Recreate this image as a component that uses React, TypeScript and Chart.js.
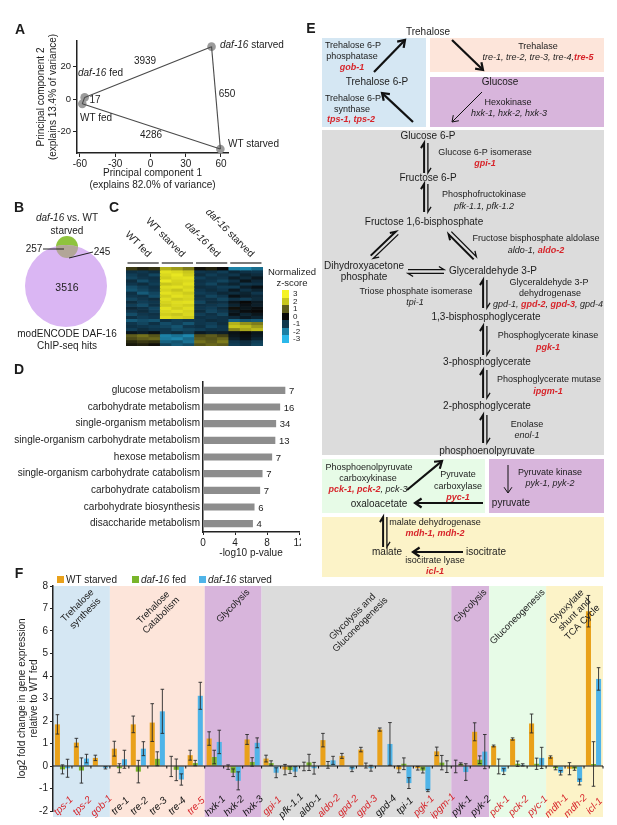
import React, { useEffect, useRef } from 'react';
import { Chart, registerables } from 'chart.js';

Chart.register(...registerables);

const FONT = "'Liberation Sans', Arial, Helvetica, sans-serif";
const RED = '#d7242a';
const INK = '#1c1c1c';

// ---------------- Panel A data ----------------
const pcaSamples = ['daf-16 fed', 'WT fed', 'daf-16 starved', 'WT starved'];
const pc1Scores = [-56, -58, 52, 59.5];
const pc2Scores = [1, -3, 32.5, -31];
const deEdgeFrom = [0, 1, 2, 1];
const deEdgeTo = [2, 3, 3, 0];
const deGeneCounts = [3939, 4286, 650, 17];
const pc1Ticks = [-60, -30, 0, 30, 60];
const pc2Ticks = [-20, 0, 20];

// ---------------- Panel B data ----------------
const vennSets = ['modENCODE DAF-16 ChIP-seq hits', 'daf-16 vs. WT starved'];
const vennCounts = [3516, 257, 245]; // ChIP only, daf-16 vs WT only, overlap

// ---------------- Panel C data ----------------
const heatGroups = ['WT fed', 'WT starved', 'daf-16 fed', 'daf-16 starved'];
const heatReplicates = ['1', '2', '3'];
const heatZ = [
  [0.6, 0.3, 0.5, 1.8, 1.6, 1.3, 0.1, 0.3, 0.0, -2.0, -2.1, -1.7],
  [-0.9, -1.0, -0.8, 2.6, 2.4, 2.0, -1.0, -0.9, -1.1, -0.7, -0.9, -1.0],
  [-1.1, -0.9, -1.2, 2.4, 2.7, 2.2, -0.8, -1.1, -0.9, -1.0, -0.6, -0.8],
  [-1.2, -1.0, -0.9, 2.2, 2.5, 2.6, -1.1, -0.9, -1.0, -0.5, -0.8, -0.4],
  [-0.8, -1.3, -1.0, 2.7, 2.3, 2.4, -0.9, -1.0, -1.2, -0.9, -0.3, -0.7],
  [-1.0, -0.8, -1.1, 2.0, 2.2, 2.6, -1.0, -1.2, -0.8, -0.6, -1.0, -0.9],
  [-1.3, -1.1, -0.9, 2.5, 2.6, 2.3, -0.8, -0.9, -1.1, -1.1, -0.5, -0.2],
  [-1.4, -1.2, -1.0, 2.3, 2.0, 2.5, -1.0, -0.8, -1.0, -0.4, -0.9, -0.6],
  [-0.9, -1.5, -1.2, 2.6, 2.4, 2.1, -1.1, -1.0, -0.7, -0.8, -0.6, -1.0],
  [-1.0, -0.9, -1.3, 2.2, 2.6, 2.4, -0.9, -1.2, -1.0, -0.2, -0.5, -0.7],
  [-1.2, -1.0, -0.8, 2.5, 2.1, 2.3, -1.0, -0.9, -1.2, -0.9, -1.1, -0.8],
  [-0.8, -1.1, -1.0, 2.3, 2.5, 2.6, -1.2, -0.8, -0.9, -0.3, 0.0, -0.4],
  [-1.1, -1.3, -0.9, 2.1, 2.4, 2.2, -0.9, -1.0, -1.1, -0.6, -0.2, -0.5],
  [-0.7, -0.9, -1.2, 2.6, 2.2, 2.5, -1.0, -1.1, -0.8, 0.1, -0.3, -0.1],
  [-1.0, -0.8, -1.1, 2.4, 2.6, 2.3, -0.8, -1.2, -1.0, -0.4, -0.1, 0.0],
  [-1.3, -1.0, -0.9, 2.2, 2.0, 2.4, -1.1, -0.9, -1.2, -0.2, -0.6, -0.3],
  [-0.9, -1.1, -1.0, 2.5, 2.3, 2.1, -0.9, -1.0, -0.9, -0.7, -0.4, -0.6],
  [-1.5, -1.3, -1.4, -0.9, -1.1, -1.0, -1.0, -0.8, -0.9, -1.6, -1.4, -1.5],
  [-1.0, -1.2, -0.9, -1.3, -1.1, -1.4, -1.0, -1.1, -0.8, 1.8, 1.5, 1.3],
  [-0.9, -1.0, -1.1, -1.2, -1.4, -1.0, -0.9, -1.2, -1.0, 2.0, 1.9, 1.6],
  [-1.1, -0.8, -1.0, -1.0, -1.3, -1.2, -1.1, -0.9, -1.0, 1.4, 1.7, 1.9],
  [-0.3, -0.5, -0.2, -1.0, -0.8, -1.1, -0.4, -0.6, -0.5, -0.2, 0.0, -0.3],
  [1.0, 1.2, 0.9, -2.0, -1.8, -2.1, 0.8, 1.0, 0.7, -0.3, -0.1, -0.4],
  [0.8, 1.0, 1.1, -1.9, -2.1, -1.7, 1.0, 0.9, 1.1, -0.5, -0.2, -0.6],
  [0.4, 0.6, 0.5, -1.6, -1.4, -1.8, 1.2, 1.0, 1.3, -1.0, -0.8, -1.1],
  [0.2, 0.3, 0.1, -1.2, -1.5, -1.3, 0.9, 1.1, 1.0, -1.1, -0.9, -1.2],
];
const zLegendValues = [3, 2, 1, 0, -1, -2, -3];

// ---------------- Panel D data ----------------
const goTerms = [
  'glucose metabolism',
  'carbohydrate metabolism',
  'single-organism metabolism',
  'single-organism carbohydrate metabolism',
  'hexose metabolism',
  'single-organism carbohydrate catabolism',
  'carbohydrate catabolism',
  'carbohydrate biosynthesis',
  'disaccharide metabolism',
];
const goLog10P = [10.25, 9.6, 9.1, 9.0, 8.6, 7.4, 7.1, 6.4, 6.2];
const goGeneCounts = [7, 16, 34, 13, 7, 7, 7, 6, 4];
const goTicks = [0, 4, 8, 12];

// ---------------- Panel F data ----------------
const genes = [
  'tps-1', 'tps-2', 'gob-1', 'tre-1', 'tre-2', 'tre-3', 'tre-4', 'tre-5',
  'hxk-1', 'hxk-2', 'hxk-3', 'gpi-1', 'pfk-1.1', 'aldo-1', 'aldo-2', 'gpd-2',
  'gpd-3', 'gpd-4', 'tpi-1', 'pgk-1', 'ipgm-1', 'pyk-1', 'pyk-2', 'pck-1',
  'pck-2', 'pyc-1', 'mdh-1', 'mdh-2', 'icl-1',
];
const geneSignificant = [
  true, true, true, false, false, false, false, true,
  false, false, false, true, false, false, true, true,
  true, false, false, true, true, false, false, true,
  true, true, true, true, true,
];
const wtStarvedFC = [1.85, 1.04, 0.36, 0.77, 1.85, 1.93, -0.02, 0.48, 1.22, -0.05, 1.18, 0.33, -0.16, -0.02, 1.15, 0.45, 0.73, 1.62, -0.15, -0.1, 0.65, -0.02, 1.52, 0.89, 1.2, 1.89, 0.4, -0.12, 6.88];
const wtStarvedErr = [0.43, 0.19, 0.12, 0.33, 0.37, 0.84, 0.45, 0.22, 0.3, 0.1, 0.22, 0.15, 0.23, 0.19, 0.3, 0.11, 0.1, 0.07, 0.15, 0.08, 0.19, 0.28, 0.4, 0.04, 0.05, 0.42, 0.05, 0.27, 0.7];
const dafFedFC = [-0.15, -0.2, 0.0, -0.1, -0.25, 0.32, -0.17, 0.13, 0.4, -0.3, 0.18, 0.13, -0.18, 0.16, 0.05, 0.02, 0.02, 0.03, 0.1, -0.2, 0.15, 0.1, 0.28, -0.02, 0.1, 0.1, -0.1, -0.12, 0.09];
const dafFedErr = [0.2, 0.56, 0.0, 0.2, 0.5, 0.31, 0.48, 0.12, 0.3, 0.17, 0.19, 0.1, 0.15, 0.36, 0.15, 0.0, 0.11, 0.0, 0.26, 0.11, 0.32, 0.04, 0.17, 0.33, 0.12, 0.25, 0.07, 0.07, 0.99];
const dafStarvedFC = [-0.1, 0.33, -0.08, 0.3, 0.77, 2.43, -0.6, 3.12, 1.07, -0.66, 1.03, -0.3, -0.25, -0.1, 0.25, -0.15, -0.1, 0.98, -0.76, -1.09, -0.03, -0.27, 0.64, -0.25, 0.05, 0.36, -0.3, -0.71, 3.87];
const dafStarvedErr = [0.4, 0.19, 0.05, 0.4, 0.31, 0.98, 0.25, 0.6, 0.52, 0.4, 0.22, 0.22, 0.22, 0.26, 0.18, 0.1, 0.13, 0.95, 0.24, 0.05, 0.26, 0.37, 0.76, 0.13, 0.05, 0.47, 0.1, 0.13, 0.5];
const seriesNames = ['WT starved', 'daf-16 fed', 'daf-16 starved'];
const pathwayNames = ['Trehalose\nsynthesis', 'Trehalose\nCatabolism', 'Glycolysis', 'Glycolysis and\nGluconeogenesis', 'Glycolysis', 'Gluconeogenesis', 'Glyoxylate\nshunt and\nTCA Cycle'];
const pathwayFirst = [0, 3, 8, 11, 21, 23, 26];
const pathwayLast = [2, 7, 10, 20, 22, 25, 28];
const fcTicks = [-2, -1, 0, 1, 2, 3, 4, 5, 6, 7, 8];

// ---------------- styles ----------------
const BG_BLUE = '#d5e7f3';
const BG_PINK = '#fde5da';
const BG_PURPLE = '#d8b5dc';
const BG_GRAY = '#dcdcdc';
const BG_GREEN = '#e7fbe7';
const BG_YELLOW = '#fcf3c8';
const pathwayColors = [BG_BLUE, BG_PINK, BG_PURPLE, BG_GRAY, BG_PURPLE, BG_GREEN, BG_YELLOW];
const seriesColors = ['#e9a11a', '#79b52a', '#4fb4e8'];
const zStops: [number, number[]][] = [
  [-3, [43, 184, 234]], [-2, [28, 128, 165]], [-1, [15, 54, 76]], [0, [8, 8, 8]],
  [1, [94, 92, 28]], [2, [200, 198, 28]], [3, [245, 243, 35]],
];
function zColor(z: number) {
  const v = Math.max(-3, Math.min(3, z));
  for (let i = 0; i < zStops.length - 1; i++) {
    const [a, ca] = zStops[i];
    const [b, cb] = zStops[i + 1];
    if (v >= a && v <= b) {
      const t = (v - a) / (b - a);
      const c = ca.map((x, k) => Math.round(x + (cb[k] - x) * t));
      return `rgb(${c[0]},${c[1]},${c[2]})`;
    }
  }
  return 'rgb(8,8,8)';
}

// layout geometry
const A_BOX = { left: 0, top: 30, width: 300, height: 165 };
const B_BOX = { left: 20, top: 230, width: 100, height: 105 };
const vennCircles = [{ cx: 46, cy: 56, r: 41 }, { cx: 47, cy: 17, r: 11 }];
const C_BOX = { left: 126, top: 255, width: 137, height: 91, padTop: 12 };
const D_BOX = { left: 0, top: 370, width: 301, height: 195 };
const F_BOX = { left: 0, top: 575, width: 617, height: 250 };

// ---------------- chart helpers ----------------
const base: any = {
  responsive: false,
  animation: false,
  devicePixelRatio: 1,
  events: [],
  plugins: { legend: { display: false }, tooltip: { enabled: false } },
};
const fix = (size: number) => (s: any) => {
  if (s.isHorizontal()) s.height = size;
  else s.width = size;
  s.paddingLeft = 0;
  s.paddingRight = 0;
  s.paddingTop = 0;
  s.paddingBottom = 0;
};
const setTicks = (vals: number[]) => (s: any) => {
  s.ticks = vals.map((v) => ({ value: v }));
};
const tickFont = { family: FONT, size: 10 };
const axisGrid = (len: number) => ({ display: true, drawOnChartArea: false, drawTicks: true, tickLength: len, color: '#222', lineWidth: 1 });
const axisBorder = { display: true, color: '#222', width: 1.5 };

function ChartCanvas({ box, make }: { box: any; make: () => any }) {
  const ref = useRef<HTMLCanvasElement>(null);
  useEffect(() => {
    const chart = new Chart(ref.current as HTMLCanvasElement, make());
    return () => chart.destroy();
  }, []);
  return (
    <canvas
      ref={ref}
      width={box.width}
      height={box.height}
      style={{ position: 'absolute', left: box.left, top: box.top, width: box.width, height: box.height }}
    />
  );
}

// ---------------- chart configs ----------------
const makeA = () => ({
  type: 'scatter',
  data: {
    datasets: [
      ...deEdgeFrom.map((f, k) => ({
        label: String(deGeneCounts[k]),
        data: [
          { x: pc1Scores[f], y: pc2Scores[f] },
          { x: pc1Scores[deEdgeTo[k]], y: pc2Scores[deEdgeTo[k]] },
        ],
        showLine: true,
        borderColor: '#4a4a4a',
        borderWidth: 1.1,
        pointRadius: 0,
      })),
      {
        label: 'samples',
        data: pcaSamples.map((_, i) => ({ x: pc1Scores[i], y: pc2Scores[i] })),
        pointRadius: 4.3,
        backgroundColor: '#9b9b9b',
        borderWidth: 0,
        clip: false,
      },
    ],
  },
  options: {
    ...base,
    layout: { autoPadding: false, padding: { left: 0, right: 72, top: 11, bottom: 0 } },
    scales: {
      x: {
        type: 'linear', min: -62.5, max: 66,
        afterFit: fix(42), afterBuildTicks: setTicks(pc1Ticks),
        grid: axisGrid(4), border: axisBorder,
        ticks: { font: tickFont, color: INK, padding: 1, maxRotation: 0 },
        title: { display: true, text: ['Principal component 1', '(explains 82.0% of variance)'], font: tickFont, color: INK, padding: { top: 0, bottom: 4 } },
      },
      y: {
        type: 'linear', min: -33.5, max: 36,
        afterFit: fix(77), afterBuildTicks: setTicks(pc2Ticks),
        grid: axisGrid(4), border: axisBorder,
        ticks: { font: { family: FONT, size: 9.5 }, color: INK, padding: 2 },
        title: { display: true, text: ['Principal component 2', '(explains 13.4% of variance)'], font: tickFont, color: INK, padding: { top: 35, bottom: 0 } },
      },
    },
  },
});

const vennOverlap = {
  id: 'vennOverlap',
  afterDatasetsDraw(chart: any) {
    const big = chart.getDatasetMeta(0).data[0];
    const small = chart.getDatasetMeta(1).data[0];
    const ctx = chart.ctx;
    ctx.save();
    ctx.beginPath();
    ctx.arc(big.x, big.y, big.options.radius, 0, Math.PI * 2);
    ctx.clip();
    ctx.beginPath();
    ctx.arc(small.x, small.y, small.options.radius, 0, Math.PI * 2);
    ctx.fillStyle = '#b2a698';
    ctx.fill();
    ctx.restore();
  },
};
const makeB = () => ({
  type: 'bubble',
  data: {
    datasets: [
      { label: vennSets[0], data: [{ x: vennCircles[0].cx, y: vennCircles[0].cy, r: vennCircles[0].r, count: vennCounts[0] }], backgroundColor: '#dab6f3', borderWidth: 0, clip: false },
      { label: vennSets[1], data: [{ x: vennCircles[1].cx, y: vennCircles[1].cy, r: vennCircles[1].r, count: vennCounts[1] }], backgroundColor: '#8fc33e', borderWidth: 0, clip: false },
    ],
  },
  options: {
    ...base,
    layout: { autoPadding: false, padding: 0 },
    scales: {
      x: { type: 'linear', display: false, min: 0, max: B_BOX.width },
      y: { type: 'linear', display: false, min: 0, max: B_BOX.height, reverse: true },
    },
  },
  plugins: [vennOverlap],
});

const heatHeader = {
  id: 'heatHeader',
  afterDraw(chart: any) {
    const xs = chart.scales.x;
    const ctx = chart.ctx;
    const n = heatReplicates.length;
    const cw = chart.chartArea.width / (heatGroups.length * n);
    ctx.save();
    ctx.strokeStyle = '#222';
    ctx.lineWidth = 1.2;
    heatGroups.forEach((_, g) => {
      const x1 = xs.getPixelForValue(g * n) - cw / 2 + 1.5;
      const x2 = xs.getPixelForValue(g * n + n - 1) + cw / 2 - 1.5;
      const y = chart.chartArea.top - 4;
      ctx.beginPath();
      ctx.moveTo(x1, y);
      ctx.lineTo(x2, y);
      ctx.stroke();
    });
    ctx.restore();
  },
};
const makeC = () => ({
  type: 'bar',
  data: {
    labels: heatGroups.flatMap((g) => heatReplicates.map((r) => `${g} ${r}`)),
    datasets: heatZ.map((row, r) => ({
      label: `gene ${r + 1}`,
      data: row.map(() => 1),
      backgroundColor: row.map(zColor),
      borderWidth: 0,
      barPercentage: 1,
      categoryPercentage: 1,
    })),
  },
  options: {
    ...base,
    layout: { autoPadding: false, padding: { top: C_BOX.padTop, left: 0, right: 0, bottom: 0 } },
    scales: {
      x: { display: false, stacked: true },
      y: { display: false, stacked: true, reverse: true, min: 0, max: heatZ.length },
    },
  },
  plugins: [heatHeader],
});

const goCountLabels = {
  id: 'goCountLabels',
  afterDatasetsDraw(chart: any) {
    const ctx = chart.ctx;
    const meta = chart.getDatasetMeta(0);
    ctx.save();
    ctx.font = `9.5px ${FONT}`;
    ctx.fillStyle = INK;
    ctx.textAlign = 'left';
    ctx.textBaseline = 'middle';
    meta.data.forEach((bar: any, i: number) => {
      ctx.fillText(String(goGeneCounts[i]), bar.x + 4, bar.y + 1);
    });
    ctx.restore();
  },
};
const makeD = () => ({
  type: 'bar',
  data: {
    labels: goTerms,
    datasets: [{ label: '-log10 p-value', data: goLog10P, backgroundColor: '#8d8d8d', barThickness: 6.5 }],
  },
  options: {
    ...base,
    indexAxis: 'y',
    layout: { autoPadding: false, padding: { left: 0, right: 2, top: 12, bottom: 0 } },
    scales: {
      x: {
        type: 'linear', min: 0, max: 12,
        afterFit: fix(33), afterBuildTicks: setTicks(goTicks),
        grid: axisGrid(3), border: axisBorder,
        ticks: { font: tickFont, color: INK, padding: 2, maxRotation: 0 },
        title: { display: true, text: '-log10 p-value', font: tickFont, color: INK, padding: { top: 0, bottom: 6 } },
      },
      y: {
        afterFit: fix(203),
        grid: { display: false, drawTicks: false },
        border: axisBorder,
        ticks: { font: tickFont, color: INK, padding: 3 },
      },
    },
  },
  plugins: [goCountLabels],
});

const fcValues = [wtStarvedFC, dafFedFC, dafStarvedFC];
const fcErrors = [wtStarvedErr, dafFedErr, dafStarvedErr];
const fPlugin = {
  id: 'fDecor',
  beforeDraw(chart: any) {
    const { ctx, chartArea: a } = chart;
    const xs = chart.scales.x;
    const cw = a.width / genes.length;
    ctx.save();
    pathwayNames.forEach((_, r) => {
      const x1 = xs.getPixelForValue(pathwayFirst[r]) - cw / 2;
      const x2 = xs.getPixelForValue(pathwayLast[r]) + cw / 2;
      ctx.fillStyle = pathwayColors[r];
      ctx.fillRect(x1, a.top, x2 - x1, a.bottom + 6 - a.top);
    });
    ctx.restore();
  },
  afterDatasetsDraw(chart: any) {
    const { ctx, chartArea: a } = chart;
    const xs = chart.scales.x;
    const ys = chart.scales.y;
    const cw = a.width / genes.length;
    const y0 = ys.getPixelForValue(0);
    ctx.save();
    ctx.strokeStyle = '#111';
    ctx.lineWidth = 1.2;
    ctx.beginPath();
    ctx.moveTo(a.left, y0);
    ctx.lineTo(a.right, y0);
    ctx.stroke();
    ctx.lineWidth = 1;
    genes.forEach((_, i) => {
      const x = xs.getPixelForValue(i) + cw / 2;
      ctx.beginPath();
      ctx.moveTo(x, y0);
      ctx.lineTo(x, y0 + 2.5);
      ctx.stroke();
    });
    ctx.strokeStyle = '#2a2a2a';
    ctx.lineWidth = 0.9;
    fcErrors.forEach((errs, d) => {
      const meta = chart.getDatasetMeta(d);
      meta.data.forEach((bar: any, i: number) => {
        const e = errs[i];
        if (!e) return;
        const v = fcValues[d][i];
        const x = bar.x;
        const yt = ys.getPixelForValue(v + e);
        const yb = ys.getPixelForValue(v - e);
        ctx.beginPath();
        ctx.moveTo(x, yt);
        ctx.lineTo(x, yb);
        ctx.moveTo(x - 1.8, yt);
        ctx.lineTo(x + 1.8, yt);
        ctx.moveTo(x - 1.8, yb);
        ctx.lineTo(x + 1.8, yb);
        ctx.stroke();
      });
    });
    ctx.restore();
  },
  afterDraw(chart: any) {
    const { ctx, chartArea: a } = chart;
    const xs = chart.scales.x;
    ctx.save();
    ctx.textAlign = 'center';
    ctx.textBaseline = 'middle';
    ctx.font = `italic 10px ${FONT}`;
    genes.forEach((g, i) => {
      ctx.save();
      ctx.translate(xs.getPixelForValue(i) + 1, a.bottom - 5);
      ctx.rotate(-Math.PI / 4);
      ctx.fillStyle = geneSignificant[i] ? RED : '#111';
      ctx.fillText(g, 0, 0);
      ctx.restore();
    });
    ctx.font = `9.5px ${FONT}`;
    ctx.fillStyle = '#222';
    pathwayNames.forEach((name, r) => {
      const lines = name.split('\n');
      const lh = 11;
      const w = Math.max(...lines.map((l) => ctx.measureText(l).width));
      const cx = (xs.getPixelForValue(pathwayFirst[r]) + xs.getPixelForValue(pathwayLast[r])) / 2;
      const cy = a.top + (w + lines.length * lh) / (2 * Math.SQRT2) + 1;
      ctx.save();
      ctx.translate(cx, cy);
      ctx.rotate(-Math.PI / 4);
      lines.forEach((l, k) => ctx.fillText(l, 0, (k - (lines.length - 1) / 2) * lh));
      ctx.restore();
    });
    ctx.restore();
  },
};
const makeF = () => ({
  type: 'bar',
  data: {
    labels: genes,
    datasets: fcValues.map((vals, d) => ({
      label: seriesNames[d],
      data: vals,
      backgroundColor: seriesColors[d],
      borderWidth: 0,
      barPercentage: 1,
      categoryPercentage: 0.8,
    })),
  },
  options: {
    ...base,
    layout: { autoPadding: false, padding: { left: 0, right: 14, top: 11, bottom: 14 } },
    scales: {
      x: { display: false },
      y: {
        type: 'linear', min: -2, max: 8,
        afterFit: fix(53), afterBuildTicks: setTicks(fcTicks),
        grid: axisGrid(3), border: axisBorder,
        ticks: { font: tickFont, color: INK, padding: 2 },
        title: { display: true, text: ['log2 fold change in gene expression', 'relative to WT fed'], font: tickFont, color: INK, padding: { top: 16, bottom: 0 } },
      },
    },
  },
  plugins: [fPlugin],
});

// ---------------- HTML helpers ----------------
function Txt({ x, y, s = 9, a = 'c', children, style }: any) {
  const tr = a === 'c' ? 'translate(-50%, -50%)' : a === 'r' ? 'translate(-100%, -50%)' : 'translateY(-50%)';
  return (
    <div style={{ position: 'absolute', left: x, top: y, transform: tr, fontSize: s, lineHeight: 1, whiteSpace: 'nowrap', color: INK, ...style }}>
      {children}
    </div>
  );
}
const Rd = ({ children }: any) => <span style={{ color: RED, fontWeight: 'bold', fontStyle: 'italic' }}>{children}</span>;
const It = ({ children }: any) => <span style={{ fontStyle: 'italic' }}>{children}</span>;
const Box = ({ l, t, w, h, c }: any) => <div style={{ position: 'absolute', left: l, top: t, width: w, height: h, background: c }} />;

function Arrow({ x1, y1, x2, y2, w = 2.2, h = 8 }: any) {
  const a = Math.atan2(y2 - y1, x2 - x1);
  const s = 0.6;
  const p1 = [x2 - h * Math.cos(a - s), y2 - h * Math.sin(a - s)];
  const p2 = [x2 - h * Math.cos(a + s), y2 - h * Math.sin(a + s)];
  const ex = x2 - Math.cos(a) * w * 0.6;
  const ey = y2 - Math.sin(a) * w * 0.6;
  return (
    <g stroke="#111" strokeWidth={w} fill="none">
      <line x1={x1} y1={y1} x2={ex} y2={ey} />
      <polyline points={`${p1[0]},${p1[1]} ${x2},${y2} ${p2[0]},${p2[1]}`} strokeLinejoin="miter" />
    </g>
  );
}
function Eq({ x1, y1, x2, y2, gap = 1.9, wf = 1.3, wr = 2, h = 6 }: any) {
  const L = Math.hypot(x2 - x1, y2 - y1);
  const ux = (x2 - x1) / L;
  const uy = (y2 - y1) / L;
  const nx = uy;
  const ny = -ux;
  const c = Math.cos(0.55) * h;
  const sn = Math.sin(0.55) * h;
  const fa = [x1 + nx * gap, y1 + ny * gap];
  const fb = [x2 + nx * gap, y2 + ny * gap];
  const ra = [x2 - nx * gap, y2 - ny * gap];
  const rb = [x1 - nx * gap, y1 - ny * gap];
  return (
    <g stroke="#111" fill="none">
      <polyline strokeWidth={wf} points={`${fa[0]},${fa[1]} ${fb[0]},${fb[1]} ${fb[0] - ux * c + nx * sn},${fb[1] - uy * c + ny * sn}`} />
      <polyline strokeWidth={wr} points={`${ra[0]},${ra[1]} ${rb[0]},${rb[1]} ${rb[0] + ux * c - nx * sn},${rb[1] + uy * c - ny * sn}`} />
    </g>
  );
}

export default function App() {
  const cw = C_BOX.width / (heatGroups.length * heatReplicates.length);
  const M = 10;
  return (
    <div style={{ position: 'absolute', left: 0, top: 0, width: 617, height: 825, background: '#fff', overflow: 'hidden', fontFamily: FONT, color: INK }}>
      {/* Panel E backgrounds */}
      <Box l={322} t={38} w={104} h={89} c={BG_BLUE} />
      <Box l={430} t={38} w={174} h={34} c={BG_PINK} />
      <Box l={430} t={77} w={174} h={50} c={BG_PURPLE} />
      <Box l={322} t={130} w={282} h={325} c={BG_GRAY} />
      <Box l={322} t={459} w={163} h={54} c={BG_GREEN} />
      <Box l={489} t={459} w={115} h={54} c={BG_PURPLE} />
      <Box l={322} t={517} w={282} h={60} c={BG_YELLOW} />

      <ChartCanvas box={A_BOX} make={makeA} />
      <ChartCanvas box={B_BOX} make={makeB} />
      <ChartCanvas box={C_BOX} make={makeC} />
      <ChartCanvas box={D_BOX} make={makeD} />
      <ChartCanvas box={F_BOX} make={makeF} />

      <svg width={617} height={825} style={{ position: 'absolute', left: 0, top: 0, pointerEvents: 'none' }}>
        {/* B leader lines */}
        <line x1={43} y1={249} x2={64} y2={249} stroke="#222" strokeWidth={1} />
        <line x1={69} y1={258} x2={93} y2={252} stroke="#222" strokeWidth={1} />
        {/* E arrows */}
        <Arrow x1={374} y1={72} x2={405} y2={40} />
        <Arrow x1={413} y1={122} x2={382} y2={93} />
        <Arrow x1={452} y1={40} x2={483} y2={70} />
        <Arrow x1={482} y1={92} x2={452} y2={122} w={1} h={7} />
        <Arrow x1={407} y1={490} x2={442} y2={461} />
        <Arrow x1={483} y1={503} x2={415} y2={503} />
        <Arrow x1={508} y1={465} x2={508} y2={493} w={1} h={7} />
        <Arrow x1={463} y1={552} x2={413} y2={552} />
        <Eq x1={426} y1={143} x2={426} y2={173} />
        <Eq x1={426} y1={184} x2={426} y2={212} />
        <Eq x1={397} y1={233} x2={372} y2={257} />
        <Eq x1={450} y1={233} x2={475} y2={258} />
        <Eq x1={408} y1={271.5} x2={444} y2={271.5} wf={1.3} wr={1.3} />
        <Eq x1={485} y1={280} x2={485} y2={308} />
        <Eq x1={485} y1={326} x2={485} y2={355} />
        <Eq x1={485} y1={370} x2={485} y2={398} />
        <Eq x1={485} y1={415} x2={485} y2={443} />
        <Eq x1={385} y1={517} x2={385} y2={547} />
      </svg>

      {/* panel letters */}
      <Txt x={20} y={29} s={14} style={{ fontWeight: 'bold' }}>A</Txt>
      <Txt x={19} y={207} s={14} style={{ fontWeight: 'bold' }}>B</Txt>
      <Txt x={114} y={207} s={14} style={{ fontWeight: 'bold' }}>C</Txt>
      <Txt x={19} y={369} s={14} style={{ fontWeight: 'bold' }}>D</Txt>
      <Txt x={311} y={28} s={14} style={{ fontWeight: 'bold' }}>E</Txt>
      <Txt x={19} y={573} s={14} style={{ fontWeight: 'bold' }}>F</Txt>

      {/* Panel A labels */}
      <Txt x={220} y={45} s={10} a="l"><It>daf-16</It> starved</Txt>
      <Txt x={78} y={73} s={10} a="l"><It>daf-16</It> fed</Txt>
      <Txt x={80} y={118} s={10} a="l">WT fed</Txt>
      <Txt x={228} y={144} s={10} a="l">WT starved</Txt>
      <Txt x={145} y={61} s={10}>{deGeneCounts[0]}</Txt>
      <Txt x={151} y={135} s={10}>{deGeneCounts[1]}</Txt>
      <Txt x={227} y={94} s={10}>{deGeneCounts[2]}</Txt>
      <Txt x={95} y={100} s={10}>{deGeneCounts[3]}</Txt>

      {/* Panel B labels */}
      <Txt x={67} y={218} s={10}><It>daf-16</It> vs. WT</Txt>
      <Txt x={67} y={231} s={10}>starved</Txt>
      <Txt x={34} y={249} s={10}>{vennCounts[1]}</Txt>
      <Txt x={102} y={252} s={10}>{vennCounts[2]}</Txt>
      <Txt x={67} y={287} s={10.5}>{vennCounts[0]}</Txt>
      <Txt x={67} y={334} s={10}>modENCODE DAF-16</Txt>
      <Txt x={67} y={346} s={10}>ChIP-seq hits</Txt>

      {/* Panel C group labels */}
      {heatGroups.map((g, i) => {
        const ex = C_BOX.left + cw * (heatReplicates.length * i + 1.5) + 3;
        const parts = g.startsWith('daf-16') ? <><It>daf-16</It>{g.slice(6)}</> : g;
        return (
          <div key={g} style={{ position: 'absolute', left: ex, top: 259, width: 0, height: 0, transform: 'rotate(45deg)', transformOrigin: '0 0' }}>
            <span style={{ position: 'absolute', right: 0, bottom: 0, whiteSpace: 'nowrap', fontSize: 10, lineHeight: 1 }}>{parts}</span>
          </div>
        );
      })}
      {/* Panel C legend */}
      <Txt x={292} y={272} s={9.5}>Normalized</Txt>
      <Txt x={292} y={283} s={9.5}>z-score</Txt>
      {zLegendValues.map((v, i) => (
        <React.Fragment key={v}>
          <div style={{ position: 'absolute', left: 282, top: 290 + i * 7.57, width: 7, height: 7.6, background: zColor(v) }} />
          <Txt x={293} y={294 + i * 7.57} s={8} a="l">{v}</Txt>
        </React.Fragment>
      ))}

      {/* Panel E text */}
      <Txt x={428} y={32} s={M}>Trehalose</Txt>
      <Txt x={353} y={45}>Trehalose 6-P</Txt>
      <Txt x={352} y={56}>phosphatase</Txt>
      <Txt x={352} y={67}><Rd>gob-1</Rd></Txt>
      <Txt x={377} y={82} s={M}>Trehalose 6-P</Txt>
      <Txt x={353} y={98}>Trehalose 6-P</Txt>
      <Txt x={352} y={109}>synthase</Txt>
      <Txt x={351} y={119}><Rd>tps-1, tps-2</Rd></Txt>
      <Txt x={538} y={46}>Trehalase</Txt>
      <Txt x={538} y={57}><It>tre-1, tre-2, tre-3, tre-4,</It><Rd>tre-5</Rd></Txt>
      <Txt x={500} y={82} s={M}>Glucose</Txt>
      <Txt x={508} y={102}>Hexokinase</Txt>
      <Txt x={509} y={113}><It>hxk-1, hxk-2, hxk-3</It></Txt>
      <Txt x={428} y={136} s={M}>Glucose 6-P</Txt>
      <Txt x={485} y={152}>Glucose 6-P isomerase</Txt>
      <Txt x={485} y={163}><Rd>gpi-1</Rd></Txt>
      <Txt x={428} y={178} s={M}>Fructose 6-P</Txt>
      <Txt x={484} y={194}>Phosphofructokinase</Txt>
      <Txt x={484} y={206}><It>pfk-1.1, pfk-1.2</It></Txt>
      <Txt x={424} y={222} s={M}>Fructose 1,6-bisphosphate</Txt>
      <Txt x={536} y={238}>Fructose bisphosphate aldolase</Txt>
      <Txt x={536} y={250}><It>aldo-1, </It><Rd>aldo-2</Rd></Txt>
      <Txt x={364} y={266} s={M}>Dihydroxyacetone</Txt>
      <Txt x={364} y={277} s={M}>phosphate</Txt>
      <Txt x={493} y={271} s={M}>Glyceraldehyde 3-P</Txt>
      <Txt x={416} y={291}>Triose phosphate isomerase</Txt>
      <Txt x={415} y={302}><It>tpi-1</It></Txt>
      <Txt x={549} y={282}>Glyceraldehyde 3-P</Txt>
      <Txt x={550} y={293}>dehydrogenase</Txt>
      <Txt x={548} y={304}><It>gpd-1, </It><Rd>gpd-2</Rd><It>, </It><Rd>gpd-3</Rd><It>, gpd-4</It></Txt>
      <Txt x={486} y={317} s={M}>1,3-bisphosphoglycerate</Txt>
      <Txt x={548} y={335}>Phosphoglycerate kinase</Txt>
      <Txt x={548} y={347}><Rd>pgk-1</Rd></Txt>
      <Txt x={487} y={362} s={M}>3-phosphoglycerate</Txt>
      <Txt x={549} y={379}>Phosphoglycerate mutase</Txt>
      <Txt x={548} y={391}><Rd>ipgm-1</Rd></Txt>
      <Txt x={487} y={406} s={M}>2-phosphoglycerate</Txt>
      <Txt x={527} y={424}>Enolase</Txt>
      <Txt x={527} y={435}><It>enol-1</It></Txt>
      <Txt x={487} y={451} s={M}>phosphoenolpyruvate</Txt>
      <Txt x={369} y={467}>Phosphoenolpyruvate</Txt>
      <Txt x={368} y={478}>carboxykinase</Txt>
      <Txt x={368} y={489}><Rd>pck-1, pck-2</Rd><It>, pck-3</It></Txt>
      <Txt x={458} y={474}>Pyruvate</Txt>
      <Txt x={458} y={486}>carboxylase</Txt>
      <Txt x={458} y={497}><Rd>pyc-1</Rd></Txt>
      <Txt x={379} y={504} s={M}>oxaloacetate</Txt>
      <Txt x={550} y={472}>Pyruvate kinase</Txt>
      <Txt x={550} y={483}><It>pyk-1, pyk-2</It></Txt>
      <Txt x={511} y={503} s={M}>pyruvate</Txt>
      <Txt x={435} y={522}>malate dehydrogenase</Txt>
      <Txt x={435} y={533}><Rd>mdh-1, mdh-2</Rd></Txt>
      <Txt x={387} y={552} s={M}>malate</Txt>
      <Txt x={486} y={552} s={M}>isocitrate</Txt>
      <Txt x={435} y={560}>isocitrate lyase</Txt>
      <Txt x={435} y={571}><Rd>icl-1</Rd></Txt>

      {/* Panel F legend */}
      {seriesNames.map((n, i) => {
        const lx = [57, 132, 199][i];
        return (
          <React.Fragment key={n}>
            <div style={{ position: 'absolute', left: lx, top: 576, width: 6.5, height: 6.5, background: seriesColors[i] }} />
            <Txt x={lx + 9} y={580} s={10} a="l">{n.startsWith('daf-16') ? <><It>daf-16</It>{n.slice(6)}</> : n}</Txt>
          </React.Fragment>
        );
      })}
    </div>
  );
}
